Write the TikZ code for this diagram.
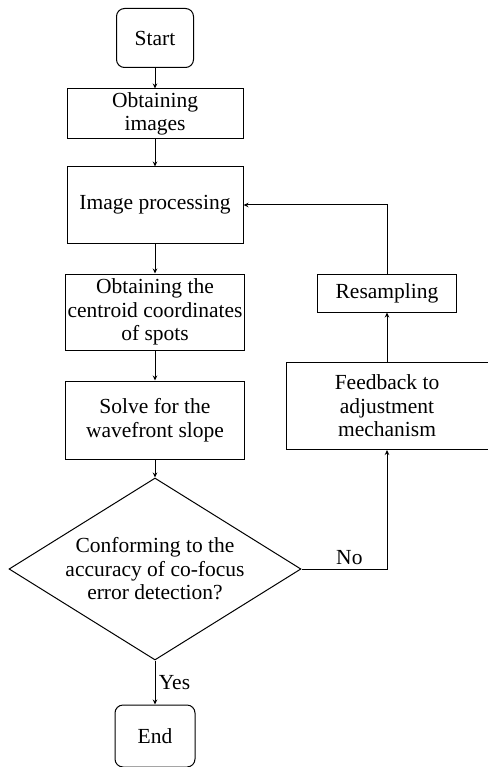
\documentclass[tikz,border=0pt]{standalone}
\usepackage{fontspec}
\setmainfont{Liberation Serif}
\usetikzlibrary{shapes.geometric,arrows.meta}

\begin{document}
\begin{tikzpicture}[x=1pt,y=-1pt,align=center,
    font=\fontsize{21.5}{23.5}\selectfont,
    line width=1pt,
    box/.style={rectangle,draw,inner sep=0pt},
    term/.style={rectangle,draw,rounded corners=8pt,inner sep=0pt},
    decision/.style={diamond,draw,aspect=1.6,inner sep=0pt,minimum width=292pt,minimum height=182pt},
    >={Stealth[length=5pt,width=4.5pt]}]
    \useasboundingbox (0,0) rectangle (487,767);
    \node[term,minimum width=77pt,minimum height=59pt] at (155, 38) (start) {Start};
    \node[box,minimum width=176pt,minimum height=50pt] at (155, 114) (obt) {Obtaining\\images};
    \node[box,minimum width=176pt,minimum height=76pt] at (155, 205) (proc) {Image processing};
    \node[box,minimum width=179pt,minimum height=76pt] at (155, 312) (cent) {Obtaining the\\centroid coordinates\\of spots};
    \node[box,minimum width=179pt,minimum height=78pt] at (155, 420) (solve) {Solve for the\\wavefront slope};
    \node[decision] at (155, 569) (dec) {Conforming to the\\accuracy of co-focus\\error detection?};
    \node[term,minimum width=80pt,minimum height=62pt] at (155, 736) (end) {End};
    \node[box,minimum width=139pt,minimum height=38pt] at (387, 293) (resamp) {Resampling};
    \node[box,minimum width=202pt,minimum height=87pt] at (387, 406) (fb) {Feedback to\\adjustment\\mechanism};

    \draw[->]       (start) -- (obt);
    \draw[->]       (obt) -- (proc);
    \draw[->]       (proc) -- (cent);
    \draw[->]       (cent) -- (solve);
    \draw[->]       (solve) -- (dec);
    \draw[->]       (dec) -- node[right,pos=0.5] {Yes} (end);
    \draw[->]       (dec.east) -| node[above,pos=0.28] {No} (fb.south);
    \draw[->]       (fb) -- (resamp);
    \draw[->]       (resamp.north) |- (proc.east);
\end{tikzpicture}
\end{document}
